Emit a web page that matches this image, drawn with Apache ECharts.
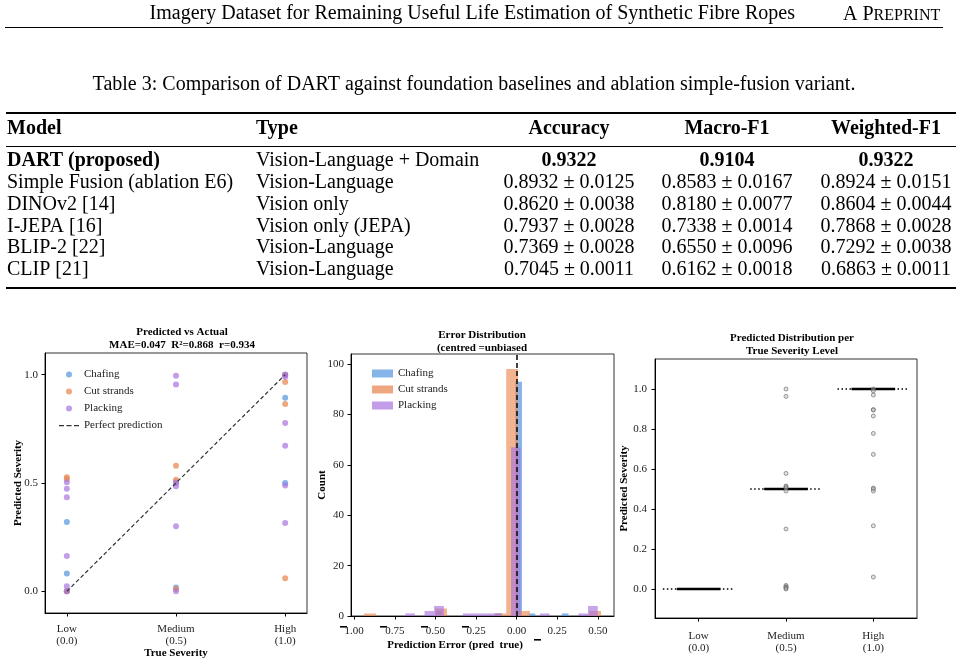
<!DOCTYPE html>
<html>
<head>
<meta charset="utf-8">
<script src="https://cdn.jsdelivr.net/npm/echarts@6/dist/echarts.min.js"></script>
<style>
  html, body { margin: 0; padding: 0; background: #fff; }
  #page { width: 961px; height: 664px; }
</style>
</head>
<body>
<div id="page"></div>
<script>
// ---- page text ----
const runningHead = 'Imagery Dataset for Remaining Useful Life Estimation of Synthetic Fibre Ropes';
const caption = 'Table 3: Comparison of DART against foundation baselines and ablation simple-fusion variant.';

// ---- table ----
const tableHeader = ['Model', 'Type', 'Accuracy', 'Macro-F1', 'Weighted-F1'];
const models = ['DART (proposed)', 'Simple Fusion (ablation E6)', 'DINOv2 [14]', 'I-JEPA [16]', 'BLIP-2 [22]', 'CLIP [21]'];
const types = ['Vision-Language + Domain', 'Vision-Language', 'Vision only', 'Vision only (JEPA)', 'Vision-Language', 'Vision-Language'];
const accuracy = ['0.9322', '0.8932 ± 0.0125', '0.8620 ± 0.0038', '0.7937 ± 0.0028', '0.7369 ± 0.0028', '0.7045 ± 0.0011'];
const macroF1 = ['0.9104', '0.8583 ± 0.0167', '0.8180 ± 0.0077', '0.7338 ± 0.0014', '0.6550 ± 0.0096', '0.6162 ± 0.0018'];
const weightedF1 = ['0.9322', '0.8924 ± 0.0151', '0.8604 ± 0.0044', '0.7868 ± 0.0028', '0.7292 ± 0.0038', '0.6863 ± 0.0011'];

// ---- panel 1: predicted vs actual (x = true severity, y = predicted) ----
const severityLabels = ['Low\n(0.0)', 'Medium\n(0.5)', 'High\n(1.0)'];
const severityValues = [0, 0.5, 1];
const chafingPts = [[0, 0.32], [0, 0.082], [0, 0], [0.5, 0.505], [0.5, 0.018], [1, 1.0], [1, 0.894], [1, 0.5]];
const cutPts = [[0, 0.526], [0, 0.518], [0, 0], [0.5, 0.58], [0.5, 0.515], [0.5, 0.011], [1, 1.0], [1, 0.966], [1, 0.865], [1, 0.06]];
const plackingPts = [[0, 0.503], [0, 0.474], [0, 0.434], [0, 0.163], [0, 0.023], [0, 0],
  [0.5, 0.995], [0.5, 0.955], [0.5, 0.5], [0.5, 0.485], [0.5, 0.30], [0.5, 0],
  [1, 1.0], [1, 0.99], [1, 0.777], [1, 0.672], [1, 0.489], [1, 0.315]];
const perfectLine = [[0, 0], [1, 1]];
const statsLine = 'MAE=0.047  R²=0.868  r=0.934';

// ---- panel 2: error histograms, [binStart, binEnd, count] ----
const chafingBins = [[-0.5, -0.459, 2], [-0.131, -0.09, 1], [-0.008, 0.033, 93], [0.074, 0.115, 1], [0.279, 0.32, 1]];
const cutBins = [[-0.94, -0.867, 1], [-0.502, -0.429, 3], [-0.137, -0.064, 1], [-0.064, 0.009, 98], [0.009, 0.082, 2], [0.447, 0.52, 2]];
const plackingBins = [[-0.685, -0.626, 1], [-0.567, -0.508, 2], [-0.508, -0.448, 4], [-0.33, -0.271, 1], [-0.271, -0.211, 1],
  [-0.211, -0.152, 1], [-0.152, -0.093, 1], [-0.034, 0.025, 67], [0.144, 0.203, 1], [0.381, 0.44, 1], [0.44, 0.5, 4]];
const errorTicks = [-1, -0.75, -0.5, -0.25, 0, 0.25, 0.5];

// ---- panel 3: distribution per true level ----
const levelNames = ['Low\n(0.0)', 'Medium\n(0.5)', 'High\n(1.0)'];
const levelCentres = [[0, 0], [1, 0.5], [2, 1.0]];
const mediumFliers = [1.0, 0.963, 0.578, 0.515, 0.511, 0.505, 0.49, 0.30, 0.018, 0.012, 0.008, 0.004, 0.0];
const highFliers = [1.0, 0.99, 0.97, 0.897, 0.895, 0.865, 0.778, 0.673, 0.505, 0.5, 0.49, 0.316, 0.06];
const sevTicks3 = [0, 0.2, 0.4, 0.6, 0.8, 1.0];

const BLUE = '#5b9be0', ORANGE = '#e98a55', PURPLE = '#a874de';
const SERIF = '"Liberation Serif", "DejaVu Serif", serif';
const DASH_ICON = 'path://M0,0h0.01v0.01h-0.01zM0,2.5h5v1.2h-5zM7.5,2.5h5v1.2h-5zM15,2.5h5v1.2h-5zM19.99,5.99h0.01v0.01h-0.01z';

const chart = echarts.init(document.getElementById('page'), null, { renderer: 'canvas' });

// page text + table as graphic elements
const g = [];
function txt(x, y, text, font, opts) {
  g.push({ type: 'text', x: x, y: y, silent: true,
    style: Object.assign({ text: text, font: font, fill: '#000', textAlign: 'left', textVerticalAlign: 'middle' }, opts || {}) });
}
function rule(y, h, x0, x1) {
  g.push({ type: 'rect', silent: true, shape: { x: x0, y: y, width: x1 - x0, height: h }, style: { fill: '#000' } });
}
txt(795, 14, runningHead, '20px ' + SERIF, { textAlign: 'right' });
txt(843, 15, '{a|A P}{b|REPRINT}', '20px ' + SERIF, { rich: { a: { font: '20px ' + SERIF }, b: { font: '16px ' + SERIF, padding: [2, 0, 0, 0] } } });
rule(27, 1, 5, 943);
txt(474, 85, caption, '20px ' + SERIF, { textAlign: 'center' });
rule(112, 2, 6, 956);
const colX = [7, 256, 569, 727, 886];
const colAlign = ['left', 'left', 'center', 'center', 'center'];
tableHeader.forEach((h, i) => txt(colX[i], 129, h, 'bold 20px ' + SERIF, { textAlign: colAlign[i] }));
rule(146, 1, 6, 956);
models.forEach((m, r) => {
  const y = 161 + r * 21.8;
  const cells = [m, types[r], accuracy[r], macroF1[r], weightedF1[r]];
  cells.forEach((c, i) => {
    const b = (r === 0 && i !== 1) ? 'bold ' : '';
    txt(colX[i], y, c, b + '20px ' + SERIF, { textAlign: colAlign[i] });
  });
});
rule(287, 2, 6, 956);
// stray minus glyphs of the error axis
[[340, 626], [380, 626], [421, 626], [462, 626], [534, 639]].forEach(p => {
  g.push({ type: 'rect', silent: true, shape: { x: p[0], y: p[1], width: 7, height: 1.6 }, style: { fill: '#000' } });
});

function histItem(opacity) {
  return function (params, api) {
    const p0 = api.coord([api.value(0), api.value(2)]);
    const p1 = api.coord([api.value(1), 0]);
    return { type: 'rect', shape: { x: p0[0], y: p0[1], width: p1[0] - p0[0], height: p1[1] - p0[1] },
      style: { fill: api.visual('color'), opacity: opacity } };
  };
}

function levelItem(params, api) {
  const c = api.coord([api.value(0), api.value(1)]);
  const bw = api.size([1, 0])[0];
  return { type: 'group', children: [
    { type: 'line', shape: { x1: c[0] - 0.41 * bw, y1: c[1], x2: c[0] + 0.41 * bw, y2: c[1] },
      style: { stroke: '#000', lineWidth: 1.3, lineDash: [1.5, 2.5] } },
    { type: 'line', shape: { x1: c[0] - 0.25 * bw, y1: c[1], x2: c[0] + 0.25 * bw, y2: c[1] },
      style: { stroke: '#000', lineWidth: 2.6 } }
  ] };
}

const axisCommon = {
  nameMoveOverlap: false,
  axisLine: { show: true, onZero: false, lineStyle: { color: '#000', width: 1 } },
  axisTick: { show: true, length: 3.5, lineStyle: { color: '#000' } },
  splitLine: { show: false },
  axisLabel: { color: '#222', fontFamily: SERIF, fontSize: 11 },
  nameTextStyle: { color: '#000', fontFamily: SERIF, fontSize: 11, fontWeight: 'bold' }
};
function ax(o) {
  const r = Object.assign({}, axisCommon, o);
  ['axisLine', 'axisTick', 'axisLabel', 'nameTextStyle'].forEach(k => { if (o[k]) r[k] = Object.assign({}, axisCommon[k], o[k]); });
  return r;
}

const titleStyle = { fontFamily: SERIF, fontSize: 11, fontWeight: 'bold', color: '#000', lineHeight: 13 };

chart.setOption({
  animation: false,
  backgroundColor: '#fff',
  graphic: g,
  title: [
    { text: 'Predicted vs Actual\n' + statsLine, left: 177, top: 321, textAlign: 'center', textStyle: titleStyle },
    { text: 'Error Distribution\n(centred =unbiased', left: 477, top: 324, textAlign: 'center', textStyle: titleStyle },
    { text: 'Predicted Distribution per\nTrue Severity Level', left: 787, top: 327, textAlign: 'center', textStyle: titleStyle }
  ],
  legend: [
    { orient: 'vertical', left: 54, top: 364, itemWidth: 20, itemHeight: 6, itemGap: 6,
      textStyle: { fontFamily: SERIF, fontSize: 11, color: '#222' },
      data: [{ name: 'Chafing', icon: 'circle' }, { name: 'Cut strands', icon: 'circle' }, { name: 'Placking', icon: 'circle' },
        { name: 'Perfect prediction', icon: DASH_ICON }] },
    { orient: 'vertical', left: 367, top: 363, itemWidth: 21, itemHeight: 8, itemGap: 5,
      textStyle: { fontFamily: SERIF, fontSize: 11, color: '#222' },
      data: [{ name: 'Chafing', icon: 'rect' }, { name: 'Cut strands', icon: 'rect' }, { name: 'Placking', icon: 'rect' }] }
  ],
  grid: [
    { left: 45, top: 353, width: 262, height: 260, show: true, borderColor: '#333', borderWidth: 1 },
    { left: 351, top: 354, width: 263, height: 262, show: true, borderColor: '#333', borderWidth: 1 },
    { left: 655, top: 359, width: 262, height: 259, show: true, borderColor: '#333', borderWidth: 1 }
  ],
  xAxis: [
    ax({ type: 'value', gridIndex: 0, min: -0.1, max: 1.1, name: 'True Severity', nameLocation: 'middle', nameGap: 35,
      axisTick: { customValues: severityValues },
      axisLabel: { customValues: severityValues, lineHeight: 12, margin: 10,
        formatter: v => severityLabels[severityValues.indexOf(Math.round(v * 10) / 10)] } }),
    ax({ type: 'value', gridIndex: 1, min: -1.02, max: 0.6, name: 'Prediction Error (pred  true)', nameLocation: 'middle', nameGap: 24,
      nameTextStyle: { padding: [0, 55, 0, 0] },
      axisTick: { customValues: errorTicks },
      axisLabel: { customValues: errorTicks, margin: 10, formatter: v => Math.abs(v).toFixed(2) } }),
    ax({ type: 'category', gridIndex: 2, data: levelNames, boundaryGap: true,
      axisTick: { alignWithLabel: true },
      axisLabel: { lineHeight: 12, margin: 12 } })
  ],
  yAxis: [
    ax({ type: 'value', gridIndex: 0, min: -0.1, max: 1.1, name: 'Predicted Severity', nameLocation: 'middle', nameGap: 21,
      axisTick: { customValues: severityValues },
      axisLabel: { customValues: severityValues, formatter: v => v.toFixed(1), margin: 7 } }),
    ax({ type: 'value', gridIndex: 1, min: 0, max: 104, interval: 20, name: 'Count', nameLocation: 'middle', nameGap: 23,
      axisLabel: { margin: 7, showMaxLabel: false } }),
    ax({ type: 'value', gridIndex: 2, min: -0.145, max: 1.15, name: 'Predicted Severity', nameLocation: 'middle', nameGap: 25,
      axisTick: { customValues: sevTicks3 },
      axisLabel: { customValues: sevTicks3, formatter: v => v.toFixed(1), margin: 8 } })
  ],
  series: [
    { name: 'Chafing', type: 'scatter', xAxisIndex: 0, yAxisIndex: 0, data: chafingPts, symbolSize: 6,
      itemStyle: { color: BLUE, opacity: 0.75 } },
    { name: 'Cut strands', type: 'scatter', xAxisIndex: 0, yAxisIndex: 0, data: cutPts, symbolSize: 6,
      itemStyle: { color: ORANGE, opacity: 0.75 } },
    { name: 'Placking', type: 'scatter', xAxisIndex: 0, yAxisIndex: 0, data: plackingPts, symbolSize: 6,
      itemStyle: { color: PURPLE, opacity: 0.7 } },
    { name: 'Perfect prediction', type: 'line', xAxisIndex: 0, yAxisIndex: 0, data: perfectLine, symbol: 'none',
      lineStyle: { color: '#333', width: 1.2, type: [4, 2.5] }, itemStyle: { color: '#333' } },

    { name: 'Chafing', type: 'custom', xAxisIndex: 1, yAxisIndex: 1, data: chafingBins, renderItem: histItem(0.75),
      encode: { x: [0, 1], y: 2 }, itemStyle: { color: BLUE, opacity: 0.75 } },
    { name: 'Cut strands', type: 'custom', xAxisIndex: 1, yAxisIndex: 1, data: cutBins, renderItem: histItem(0.65),
      encode: { x: [0, 1], y: 2 }, itemStyle: { color: ORANGE, opacity: 0.65 } },
    { name: 'Placking', type: 'custom', xAxisIndex: 1, yAxisIndex: 1, data: plackingBins, renderItem: histItem(0.65),
      encode: { x: [0, 1], y: 2 }, itemStyle: { color: PURPLE, opacity: 0.65 },
      markLine: { silent: true, symbol: 'none', label: { show: false },
        lineStyle: { color: '#111', width: 1.6, type: [5, 3] }, data: [{ xAxis: 0 }] } },

    { type: 'custom', xAxisIndex: 2, yAxisIndex: 2, data: levelCentres, renderItem: levelItem, silent: true },
    { type: 'scatter', xAxisIndex: 2, yAxisIndex: 2, data: mediumFliers.map(v => [1, v]), symbolSize: 4,
      itemStyle: { color: 'rgba(180,180,180,0.5)', borderColor: '#666', borderWidth: 0.8 } },
    { type: 'scatter', xAxisIndex: 2, yAxisIndex: 2, data: highFliers.map(v => [2, v]), symbolSize: 4,
      itemStyle: { color: 'rgba(180,180,180,0.5)', borderColor: '#666', borderWidth: 0.8 } }
  ]
});
</script>
</body>
</html>
